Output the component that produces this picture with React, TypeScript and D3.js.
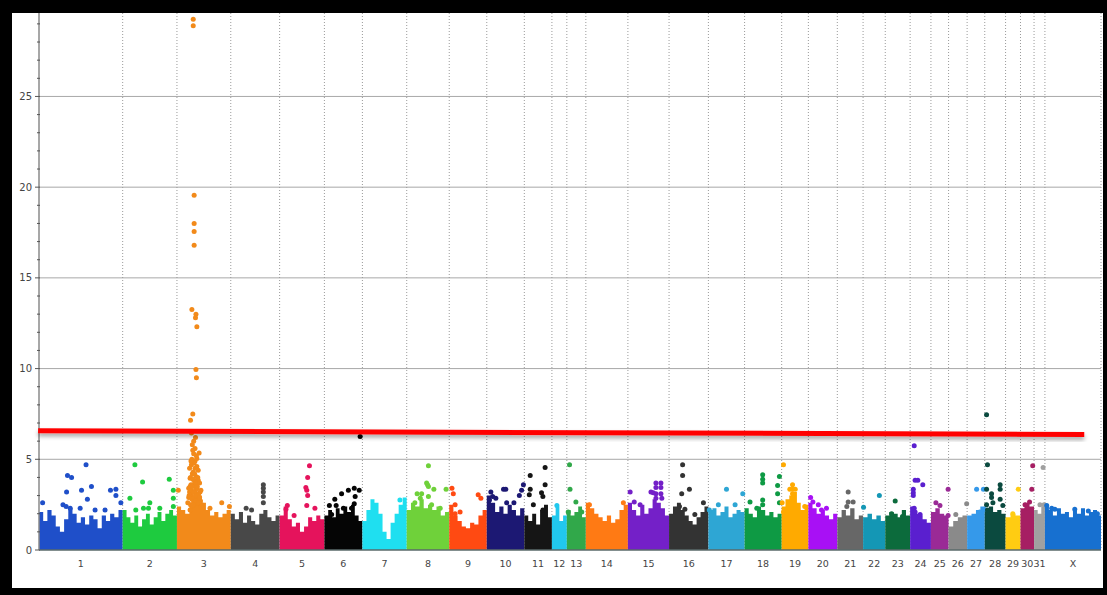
import React from "react";
import * as d3 from "d3";

// horse genome, Mb per chromosome
const chromosomes = ["1", "2", "3", "4", "5", "6", "7", "8", "9", "10", "11", "12", "13", "14", "15", "16",
  "17", "18", "19", "20", "21", "22", "23", "24", "25", "26", "27", "28", "29", "30", "31", "X"];
const chromLengthsMb = [185, 120, 119, 108, 99, 84, 98, 94, 83, 83, 61, 33, 42, 93, 91, 87,
  80, 82, 59, 64, 57, 49, 55, 46, 39, 41, 39, 46, 33, 30, 24, 124];
const chromColors = ["#1f4fc9", "#1ecb3f", "#f28a1a", "#484848", "#e5135c", "#050505", "#1fdff0", "#6fd13a",
  "#ff4a12", "#1c1873", "#151515", "#21c8ee", "#31a84a", "#ff7a14", "#7420c8", "#333333",
  "#2ea6d4", "#0e9a44", "#ffaa00", "#a810f5", "#676767", "#1497b5", "#0c6b3c", "#5a1fcf",
  "#9a2a96", "#8a8a8a", "#3599ea", "#0b4a3f", "#ffcc12", "#a61f63", "#a0a0a0", "#1770d0"];

// top of the dense mass of SNPs, evenly spaced along each chromosome (-log10 p)
const bulkTop = [
  [2.1, 1.6, 2.2, 1.9, 1.3, 1.0, 1.7, 2.3, 2.0, 1.5, 1.8, 1.4, 1.9, 1.7, 1.2, 1.9, 1.6, 2.0, 1.8, 2.2],
  [2.2, 1.8, 1.5, 1.9, 1.3, 1.7, 2.0, 1.4, 1.8, 2.1, 1.6, 2.0, 2.2, 1.9],
  [2.4, 2.2, 2.0, 2.6, 3.2, 3.0, 2.6, 2.2, 1.9, 2.1, 1.8, 2.0, 2.2],
  [2.0, 1.7, 2.1, 1.5, 1.9, 1.6, 1.4, 2.0, 2.2, 1.8, 1.6, 1.9],
  [1.9, 2.4, 1.7, 1.3, 1.5, 1.0, 1.3, 1.8, 1.6, 1.9, 1.7],
  [1.9, 2.2, 1.8, 2.3, 2.0, 2.4, 2.1, 2.5, 1.9, 1.6],
  [1.6, 2.2, 2.8, 2.6, 2.0, 1.0, 0.6, 1.5, 2.0, 2.5, 2.9],
  [2.2, 2.6, 2.4, 2.8, 2.3, 2.5, 2.2, 2.4, 1.9, 2.1],
  [2.5, 1.9, 1.6, 1.3, 1.2, 1.5, 1.4, 1.9, 2.2],
  [3.0, 2.6, 2.1, 2.4, 2.0, 2.5, 2.2, 1.9, 2.3],
  [1.9, 1.6, 2.0, 1.4, 2.2, 2.5, 1.8],
  [1.9, 2.4, 1.6, 1.9],
  [2.2, 1.9, 2.1, 2.4, 1.8],
  [2.6, 2.3, 2.0, 1.8, 1.6, 1.9, 1.5, 1.7, 2.2, 2.5],
  [2.6, 2.2, 1.9, 2.5, 2.0, 2.3, 2.8, 2.6, 2.3, 1.9],
  [2.0, 2.4, 2.6, 2.2, 1.9, 1.6, 1.4, 1.8, 2.1, 2.4],
  [2.2, 2.3, 1.9, 2.1, 2.4, 1.8, 2.0, 2.2, 2.1],
  [2.3, 2.0, 1.8, 2.4, 2.2, 1.9, 2.1, 1.8, 2.0],
  [2.4, 2.8, 3.0, 3.2, 2.6, 2.2, 2.5],
  [2.6, 2.3, 2.0, 2.2, 1.9, 1.7, 2.0],
  [1.8, 2.2, 1.9, 2.3, 1.7, 1.9],
  [1.8, 2.0, 1.7, 1.9, 1.6],
  [1.9, 2.1, 2.0, 1.8, 2.2, 1.9],
  [2.4, 2.0, 1.9, 1.7, 1.5],
  [2.1, 2.3, 2.0, 1.9],
  [1.3, 1.6, 1.8, 1.9],
  [1.9, 2.0, 2.2, 2.4],
  [2.3, 2.4, 2.1, 2.2, 2.0],
  [1.8, 2.0, 1.9],
  [2.3, 2.6, 2.4],
  [2.2, 2.0, 2.4],
  [2.4, 2.2, 1.9, 2.3, 2.0, 2.1, 1.8, 2.2, 2.0, 2.3, 1.9, 2.1, 2.2, 1.9],
];

// individual SNPs standing out of the mass: [chromosome, position Mb, -log10 p]
const hits: [string, number, number][] = [
  ["1", 8, 2.6], ["1", 63, 4.1], ["1", 72, 4.0], ["1", 104, 4.7], ["1", 61, 3.2], ["1", 94, 3.3],
  ["1", 116, 3.5], ["1", 107, 2.8], ["1", 158, 3.3], ["1", 170, 3.35], ["1", 170, 3.0], ["1", 181, 2.6],
  ["1", 53, 2.5], ["1", 60, 2.4], ["1", 69, 2.3], ["1", 91, 2.3], ["1", 124, 2.2], ["1", 146, 2.2],
  ["2", 27, 4.7], ["2", 44, 3.75], ["2", 103, 3.9], ["2", 16, 2.85], ["2", 112, 3.3], ["2", 112, 2.85],
  ["2", 60, 2.6], ["2", 46, 2.3], ["2", 57, 2.3], ["2", 82, 2.3], ["2", 112, 2.4], ["2", 29, 2.2],
  ["3", 36, 29.25], ["3", 36, 28.9], ["3", 38, 19.55], ["3", 38, 18.0], ["3", 38, 17.55], ["3", 38, 16.8],
  ["3", 33, 13.25], ["3", 42, 13.0], ["3", 41, 12.8], ["3", 44, 12.3], ["3", 42, 9.95], ["3", 43, 9.5],
  ["3", 35, 7.5], ["3", 30, 7.15], ["3", 32, 6.45], ["3", 37, 6.0], ["3", 40, 5.6], ["3", 35, 5.5],
  ["3", 49, 5.35], ["3", 44, 5.05], ["3", 40, 4.9], ["3", 32, 4.7], ["3", 40, 4.5], ["3", 36, 4.3],
  ["3", 42, 4.05], ["3", 29, 3.95], ["3", 47, 3.85], ["3", 36, 3.6], ["3", 29, 3.5], ["3", 44, 3.4],
  ["3", 3, 3.3], ["3", 51, 3.2], ["3", 32, 3.05], ["3", 45, 2.85], ["3", 37, 2.65], ["3", 99, 2.6],
  ["3", 55, 2.5], ["3", 73, 2.3], ["3", 29, 2.2], ["3", 116, 2.4], ["3", 27, 3.0], ["3", 31, 3.6],
  ["3", 34, 4.2], ["3", 38, 4.8], ["3", 41, 3.3], ["3", 46, 2.6], ["3", 48, 3.1], ["3", 52, 2.7],
  ["3", 30, 2.5], ["3", 43, 5.2], ["3", 35, 2.4], ["3", 39, 3.8], ["3", 47, 4.4], ["3", 33, 5.0],
  ["3", 28, 4.5], ["3", 26, 2.9], ["3", 26, 3.4], ["3", 28, 3.2], ["3", 30, 4.0], ["3", 31, 3.3],
  ["3", 33, 2.8], ["3", 34, 3.5], ["3", 35, 3.9], ["3", 37, 3.2], ["3", 38, 2.9], ["3", 39, 4.2],
  ["3", 40, 3.5], ["3", 41, 2.7], ["3", 42, 3.7], ["3", 43, 3.0], ["3", 44, 4.6], ["3", 45, 3.5],
  ["3", 46, 4.0], ["3", 48, 2.6], ["3", 50, 3.7], ["3", 50, 2.9], ["3", 53, 3.3], ["3", 54, 2.4],
  ["3", 37, 5.3], ["3", 34, 5.8], ["3", 41, 6.2], ["3", 31, 4.9], ["3", 36, 2.5], ["3", 24, 2.6],
  ["4", 72, 3.6], ["4", 72, 3.4], ["4", 72, 3.2], ["4", 72, 2.95], ["4", 72, 2.6], ["4", 34, 2.3], ["4", 46, 2.2],
  ["5", 66, 4.65], ["5", 62, 4.0], ["5", 58, 3.45], ["5", 60, 3.3], ["5", 62, 3.0], ["5", 78, 2.3],
  ["5", 17, 2.45], ["5", 14, 2.25], ["5", 32, 1.9], ["5", 60, 2.45],
  ["6", 79, 6.25], ["6", 23, 2.8], ["6", 38, 3.1], ["6", 53, 3.3], ["6", 66, 3.4], ["6", 77, 3.3],
  ["6", 68, 2.95], ["6", 66, 2.55], ["6", 11, 2.45], ["6", 26, 2.45], ["6", 60, 2.3], ["6", 42, 2.3], ["6", 16, 1.95],
  ["7", 83, 2.75],
  ["8", 48, 4.65], ["8", 44, 3.7], ["8", 46, 3.6], ["8", 48, 3.5], ["8", 60, 3.35], ["8", 87, 3.35],
  ["8", 23, 3.1], ["8", 33, 3.1], ["8", 30, 2.85], ["8", 18, 2.6], ["8", 48, 2.95], ["8", 55, 2.5], ["8", 74, 2.3],
  ["9", 6, 3.4], ["9", 9, 3.1], ["9", 64, 3.05], ["9", 70, 2.85], ["9", 13, 2.5], ["9", 24, 2.1], ["9", 13, 2.0],
  ["10", 37, 3.35], ["10", 42, 3.35], ["10", 9, 3.2], ["10", 13, 2.95], ["10", 6, 2.75], ["10", 20, 2.85],
  ["10", 77, 3.3], ["10", 72, 3.0], ["10", 44, 2.6], ["10", 60, 2.6], ["10", 81, 3.6],
  ["11", 46, 4.55], ["11", 13, 4.1], ["11", 46, 3.6], ["11", 38, 3.15], ["11", 41, 2.95], ["11", 13, 3.35],
  ["11", 11, 3.05], ["11", 20, 2.5], ["11", 41, 2.2],
  ["12", 11, 2.45],
  ["13", 6, 4.7], ["13", 7, 3.35], ["13", 20, 2.65], ["13", 3, 2.1], ["13", 33, 2.1],
  ["14", 8, 2.5], ["14", 83, 2.6],
  ["15", 5, 3.2], ["15", 51, 3.2], ["15", 62, 3.7], ["15", 73, 3.7], ["15", 62, 3.45], ["15", 73, 3.45],
  ["15", 62, 3.1], ["15", 73, 3.1], ["15", 62, 2.85], ["15", 75, 2.85], ["15", 14, 2.65], ["15", 27, 2.5], ["15", 56, 3.15],
  ["16", 30, 4.7], ["16", 30, 4.1], ["16", 28, 3.1], ["16", 45, 3.35], ["16", 23, 2.4], ["16", 35, 2.25],
  ["16", 76, 2.6], ["16", 57, 1.95],
  ["17", 40, 3.35], ["17", 76, 3.1], ["17", 22, 2.5], ["17", 59, 2.5], ["17", 2, 2.2],
  ["18", 40, 4.15], ["18", 40, 3.9], ["18", 40, 3.7], ["18", 77, 4.05], ["18", 73, 3.55], ["18", 73, 3.1],
  ["18", 40, 2.75], ["18", 40, 2.5], ["18", 12, 2.65], ["18", 77, 2.6], ["18", 27, 2.3],
  ["19", 4, 4.7], ["19", 24, 3.6], ["19", 24, 3.35], ["19", 18, 3.35], ["19", 30, 3.35], ["19", 24, 3.1],
  ["19", 24, 2.85], ["19", 1, 2.6], ["19", 51, 2.4], ["19", 4, 2.1],
  ["20", 5, 2.9], ["20", 10, 2.65], ["20", 22, 2.5], ["20", 40, 2.3], ["20", 29, 2.2],
  ["21", 24, 3.2], ["21", 24, 2.65], ["21", 35, 2.65], ["21", 21, 2.4],
  ["22", 36, 3.0], ["22", 1, 2.35],
  ["23", 22, 2.7], ["23", 14, 2.0], ["23", 38, 1.85],
  ["24", 9, 5.75], ["24", 11, 3.85], ["24", 17, 3.85], ["24", 28, 3.6], ["24", 7, 3.35], ["24", 7, 3.15],
  ["24", 7, 3.0], ["24", 9, 2.3], ["24", 11, 2.1], ["24", 22, 1.95],
  ["25", 38, 3.35], ["25", 11, 2.6], ["25", 20, 2.45], ["25", 38, 1.9],
  ["26", 40, 2.55], ["26", 16, 1.95],
  ["27", 21, 3.35], ["27", 36, 3.35], ["27", 38, 2.25], ["27", 28, 2.1],
  ["28", 4, 7.45], ["28", 6, 4.7], ["28", 4, 3.35], ["28", 34, 3.6], ["28", 34, 3.35], ["28", 15, 3.1],
  ["28", 15, 2.9], ["28", 34, 2.8], ["28", 4, 2.5], ["28", 18, 2.6], ["28", 40, 2.45], ["28", 6, 2.2],
  ["29", 28, 3.35], ["29", 16, 2.0],
  ["30", 27, 4.65], ["30", 25, 3.35], ["30", 20, 2.65], ["30", 10, 2.5], ["30", 14, 2.3],
  ["31", 20, 4.55], ["31", 13, 2.5], ["31", 22, 2.5],
  ["X", 4, 2.45], ["X", 15, 2.3], ["X", 22, 2.25], ["X", 66, 2.25], ["X", 96, 2.15], ["X", 116, 2.0],
];

const yTicks = [0, 5, 10, 15, 20, 25];
// significance line as drawn on the figure: [cumulative Mb, -log10 p]
const thresholdLine: [number, number][] = [[-2, 6.57], [2311, 6.37]];

export default function App() {
  const width = 1107;
  const height = 595;
  const plot = { left: 39, right: 1101, top: 13, bottom: 550 };

  const offsets = Array.from(d3.cumsum([0, ...chromLengthsMb]));
  const total = d3.sum(chromLengthsMb);
  const x = d3.scaleLinear().domain([0, total]).range([plot.left, plot.right]);
  const y = d3.scaleLinear().domain([0, 29.6]).range([plot.bottom, plot.top]);

  const area = d3
    .area<[number, number]>()
    .x((d) => x(d[0]))
    .y0(y(0))
    .y1((d) => y(d[1]))
    .curve(d3.curveStepAfter);

  const line = d3
    .line<[number, number]>()
    .x((d) => x(d[0]))
    .y((d) => y(d[1]));

  const minorTicks = d3.range(0, 30);
  const font = "'DejaVu Sans', sans-serif";

  return (
    <svg width={width} height={height} style={{ position: "absolute", left: 0, top: 0 }}>
      <defs>
        <filter id="shadow" x="-5%" y="-200%" width="110%" height="500%">
          <feDropShadow dx="0" dy="3" stdDeviation="2" floodColor="#000" floodOpacity="0.35" />
        </filter>
      </defs>
      <rect x={0} y={0} width={width} height={height} fill="#000" />
      <rect x={12} y={13} width={1091} height={575} fill="#fff" />

      {/* horizontal grid */}
      {yTicks.filter((t) => t > 0).map((t) => (
        <line key={"h" + t} x1={plot.left} x2={plot.right} y1={y(t)} y2={y(t)}
          stroke="#a8a8a8" strokeWidth={1} />
      ))}
      {/* chromosome separators */}
      {offsets.slice(1).map((o, i) => (
        <line key={"v" + i} x1={x(o)} x2={x(o)} y1={plot.top} y2={plot.bottom}
          stroke="#9a9a9a" strokeWidth={1} strokeDasharray="1,2" />
      ))}

      {/* SNP mass per chromosome */}
      {chromosomes.map((c, i) => {
        const vals = bulkTop[i];
        const len = chromLengthsMb[i];
        const pts: [number, number][] = vals.map((v, j) => [offsets[i] + (j * len) / vals.length, v]);
        pts.push([offsets[i] + len, vals[vals.length - 1]]);
        return <path key={"a" + c} d={area(pts) || ""} fill={chromColors[i]} />;
      })}

      {/* individual SNPs */}
      {hits.map(([c, pos, v], k) => {
        const i = chromosomes.indexOf(c);
        return <circle key={"p" + k} cx={x(offsets[i] + pos)} cy={y(v)} r={2.5} fill={chromColors[i]} />;
      })}

      {/* axes */}
      <line x1={plot.left} x2={plot.right} y1={plot.bottom} y2={plot.bottom} stroke="#5a6a6a" strokeWidth={1.5} />
      <line x1={plot.left} x2={plot.left} y1={plot.top} y2={plot.bottom} stroke="#8a8a8a" strokeWidth={1.5} />
      {minorTicks.map((t) => (
        <line key={"m" + t} x1={plot.left - (t % 5 === 0 ? 4 : 2)} x2={plot.left + 1} y1={y(t)} y2={y(t)}
          stroke="#555" strokeWidth={1} />
      ))}
      {yTicks.map((t) => (
        <text key={"yt" + t} x={plot.left - 7} y={y(t)} dy="0.35em" textAnchor="end"
          fontFamily={font} fontSize={10} fill="#444">{t}</text>
      ))}
      {chromosomes.map((c, i) => (
        <text key={"xt" + c} x={x(offsets[i] + chromLengthsMb[i] / 2)} y={567} textAnchor="middle"
          fontFamily={font} fontSize={9.5} fill="#444">{c}</text>
      ))}

      {/* threshold */}
      <path d={line(thresholdLine) || ""} stroke="#ff0000" strokeWidth={5} fill="none" filter="url(#shadow)" />
    </svg>
  );
}
